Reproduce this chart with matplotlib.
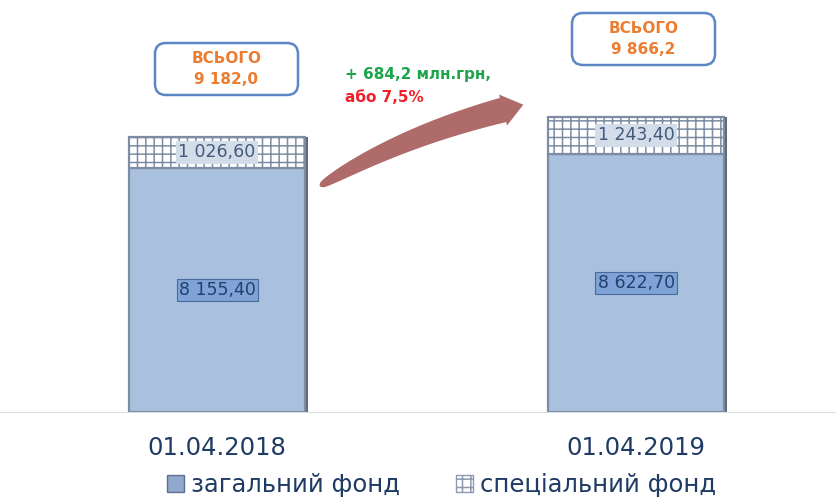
import numpy as np
import matplotlib
matplotlib.use("Agg")
import matplotlib.pyplot as plt
from matplotlib.patches import FancyBboxPatch, Polygon, Patch

# data (млн.грн)
dates = ["01.04.2018", "01.04.2019"]
general = [8155.40, 8622.70]
special = [1026.60, 1243.40]
totals = [9182.0, 9866.2]
series_names = ["загальний фонд", "спеціальний фонд"]
growth_text = "+ 684,2 млн.грн,"
growth_pct = "або 7,5%"


def ua(v, nd=2):
    s = f"{v:,.{nd}f}"
    return s.replace(",", " ").replace(".", ",")


def px(xp, yp):
    # picture pixels (y down) -> inches for fig.dpi_scale_trans
    return xp / 100, (498 - yp) / 100


plt.rcParams['font.family'] = ['DejaVu Sans']
plt.rcParams['hatch.color'] = "#5C78A6"
plt.rcParams['hatch.linewidth'] = 1.1

fig = plt.figure(figsize=(8.36, 4.98), dpi=100)
ax = fig.add_axes([0, 1 - 412 / 498, 1, 412 / 498])

x = np.array([0, 1])
w = 0.42
blue = "#A9C1DF"
edge = "#7D8CA3"
stack = np.array(general) + np.array(special)
# dark shadow on the right side of the columns
ax.bar(x + 0.008, stack, w, color="#5D6878", zorder=1)
ax.bar(x, general, w, color=blue, edgecolor=edge, linewidth=1.6, zorder=2)
ax.bar(x, special, w, bottom=general, color="white", edgecolor=edge,
       linewidth=1.6, hatch="++", zorder=2)

ax.set_xlim(-0.518, 1.477)
ax.set_ylim(0, 13756)
for s in ["top", "left", "right"]:
    ax.spines[s].set_visible(False)
ax.spines["bottom"].set_color("#D9DEE8")
ax.set_yticks([])
ax.set_xticks(x)
ax.set_xticklabels(dates, fontsize=17.5, color="#1F3B63")
ax.tick_params(axis="x", length=0, pad=17)

# value labels
for xi, g, s in zip(x, general, special):
    ax.text(xi, g / 2, ua(g), ha="center", va="center", fontsize=12.5,
            color="#233F6B", zorder=3,
            bbox=dict(boxstyle="square,pad=0.12", fc="#7FA3D6", ec="#4A6A9A", lw=0.8))
    ax.text(xi, g + s / 2, ua(s), ha="center", va="center", fontsize=12.5,
            color="#445A7A", zorder=3,
            bbox=dict(boxstyle="square,pad=0.15", fc="#D3DCE9", ec="none"))

# total boxes (pixel positions of the callouts)
box_pos = [(155, 43), (572, 13)]
for (bx, by), t in zip(box_pos, totals):
    x0, y1 = px(bx, by)
    bw, bh = 1.43, 0.52
    fig.patches.append(FancyBboxPatch((x0, y1 - bh), bw, bh,
                                      boxstyle="round,pad=0,rounding_size=0.11",
                                      transform=fig.dpi_scale_trans, fc="white",
                                      ec="#5B87C5", lw=1.8))
    fig.text(x0 + bw / 2, y1 - bh / 2, "ВСЬОГО\n" + ua(t, 1), ha="center", va="center",
             fontsize=11, fontweight="bold", color="#EC7C30", linespacing=1.45,
             transform=fig.dpi_scale_trans)

# growth arrow: tapered curved body + small head
P0 = np.array([320.0, 186.0])
C = np.array([400.0, 137.0])
P1 = np.array([503.0, 110.0])
t = np.linspace(0, 1, 80)[:, None]
pts = (1 - t) ** 2 * P0 + 2 * (1 - t) * t * C + t ** 2 * P1
der = 2 * (1 - t) * (C - P0) + 2 * t * (P1 - C)
der = der / np.linalg.norm(der, axis=1, keepdims=True)
nrm = np.column_stack([der[:, 1], -der[:, 0]])
half = 1.0 + 11.5 * t ** 0.4
upper = pts + nrm * half
lower = pts - nrm * half
d = der[-1]
n = nrm[-1]
tip = P1 + 21 * d
head = [P1 + n * 16, tip, P1 - n * 16]
outline = np.vstack([upper, head, lower[::-1]])
outline_in = np.array([px(a, b) for a, b in outline])
fig.patches.append(Polygon(outline_in, closed=True, transform=fig.dpi_scale_trans,
                           fc="#AE6B69", ec="none"))

fig.text(*px(345, 75), growth_text, fontsize=11, fontweight="bold",
         color="#1DA54B", va="center", transform=fig.dpi_scale_trans)
fig.text(*px(345, 97), growth_pct, fontsize=11, fontweight="bold",
         color="#F0202A", va="center", transform=fig.dpi_scale_trans)

handles = [Patch(facecolor="#8FA8CC", edgecolor="#5C6F8E"),
           Patch(facecolor="white", edgecolor="#8C9AB0", hatch="++")]
fig.legend(handles, series_names, loc="center", bbox_to_anchor=(0.528, 1 - 485 / 498),
           ncol=2, frameon=False, fontsize=17.5, handlelength=0.7, handleheight=0.7,
           handletextpad=0.3, columnspacing=2.3, labelcolor="#1F3B63")

fig.savefig("out.png", dpi=100)
